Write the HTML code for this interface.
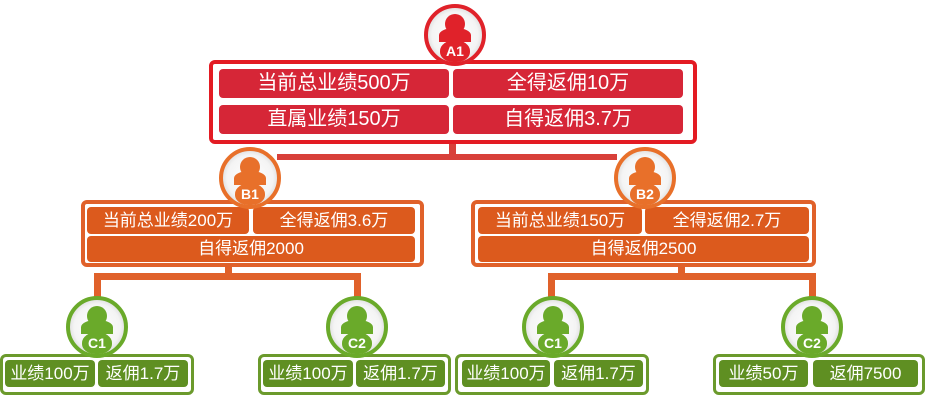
<!DOCTYPE html>
<html><head><meta charset="utf-8"><style>
*{margin:0;padding:0;box-sizing:border-box}
body{width:927px;height:401px;background:#fff;position:relative;overflow:hidden;font-family:"Liberation Sans","Noto Sans CJK SC",sans-serif}
.a{position:absolute}
.box{position:absolute;border-radius:6px;background:#fff}
.c{position:absolute;border-radius:4px;color:#fff;text-align:center;white-space:nowrap}
.r .c{background:#d62637;font-size:20px;line-height:29px}
.o .c{background:#dc5a1d;font-size:17px;line-height:27px}
.g .c{background:#5f8f22;font-size:17px;line-height:27px}
.av{position:absolute;width:62px;height:62px;border-radius:50%;border:4px solid var(--k);background:radial-gradient(circle,#fff 0,#f4f4f4 60%,#c8c8c8 90%,#aaa 100%)}
.av .h{position:absolute;left:17px;top:6px;width:20px;height:20px;border-radius:50%;background:var(--k)}
.av .b{position:absolute;left:11px;top:20px;width:32px;height:14px;border-radius:50% 50% 0 0;background:var(--k)}
.av .l{position:absolute;left:12px;top:32px;width:30px;height:22px;border-radius:50% 50% 45% 45%;background:var(--k);color:#fff;font-size:14px;font-weight:bold;text-align:center;line-height:22px}
</style></head><body>
<div class="a" style="left:449px;top:140px;width:7px;height:18px;background:#d8403a"></div>
<div class="a" style="left:277px;top:154px;width:340px;height:6px;background:#d8403a"></div>
<div class="a" style="left:225px;top:264px;width:7px;height:14px;background:#e0612a"></div>
<div class="a" style="left:94px;top:273px;width:267px;height:7px;background:#e0612a"></div>
<div class="a" style="left:94px;top:273px;width:7px;height:30px;background:#e0612a"></div>
<div class="a" style="left:354px;top:273px;width:7px;height:30px;background:#e0612a"></div>
<div class="a" style="left:678px;top:264px;width:7px;height:14px;background:#e0612a"></div>
<div class="a" style="left:548px;top:273px;width:268px;height:7px;background:#e0612a"></div>
<div class="a" style="left:548px;top:273px;width:7px;height:30px;background:#e0612a"></div>
<div class="a" style="left:809px;top:273px;width:7px;height:30px;background:#e0612a"></div>

<div class="box r" style="left:209px;top:60px;width:488px;height:84px;border:4px solid #e31b23">
<div class="c" style="left:6px;top:5px;width:230px">当前总业绩500万</div>
<div class="c" style="left:240px;top:5px;width:230px">全得返佣10万</div>
<div class="c" style="left:6px;top:41px;width:230px">直属业绩150万</div>
<div class="c" style="left:240px;top:41px;width:230px">自得返佣3.7万</div>
</div>

<div class="box o" style="left:81px;top:200px;width:343px;height:67px;border:4px solid #e0612a">
<div class="c" style="left:2px;top:3px;width:162px">当前总业绩200万</div>
<div class="c" style="left:168px;top:3px;width:162px">全得返佣3.6万</div>
<div class="c" style="left:2px;top:32px;width:328px;height:26px;line-height:26px">自得返佣2000</div>
</div>
<div class="box o" style="left:471px;top:200px;width:345px;height:67px;border:4px solid #e0612a">
<div class="c" style="left:3px;top:3px;width:164px">当前总业绩150万</div>
<div class="c" style="left:170px;top:3px;width:164px">全得返佣2.7万</div>
<div class="c" style="left:3px;top:32px;width:331px;height:26px;line-height:26px">自得返佣2500</div>
</div>

<div class="box g" style="left:0;top:354px;width:194px;height:41px;border:3px solid #6b9a2c">
<div class="c" style="left:2px;top:3px;width:90px">业绩100万</div>
<div class="c" style="left:95px;top:3px;width:90px">返佣1.7万</div>
</div>
<div class="box g" style="left:258px;top:354px;width:193px;height:41px;border:3px solid #6b9a2c">
<div class="c" style="left:2px;top:3px;width:90px">业绩100万</div>
<div class="c" style="left:95px;top:3px;width:89px">返佣1.7万</div>
</div>
<div class="box g" style="left:455px;top:354px;width:194px;height:41px;border:3px solid #6b9a2c">
<div class="c" style="left:4px;top:3px;width:88px">业绩100万</div>
<div class="c" style="left:96px;top:3px;width:89px">返佣1.7万</div>
</div>
<div class="box g" style="left:713px;top:354px;width:212px;height:41px;border:3px solid #6b9a2c">
<div class="c" style="left:3px;top:3px;width:89px">业绩50万</div>
<div class="c" style="left:97px;top:3px;width:105px">返佣7500</div>
</div>

<div class="av" style="left:424px;top:4px;--k:#e0222a"><div class="h"></div><div class="b"></div><div class="l">A1</div></div>
<div class="av" style="left:219px;top:147px;--k:#e8702a"><div class="h"></div><div class="b"></div><div class="l">B1</div></div>
<div class="av" style="left:614px;top:147px;--k:#e8702a"><div class="h"></div><div class="b"></div><div class="l">B2</div></div>
<div class="av" style="left:66px;top:296px;--k:#6aaa2a"><div class="h"></div><div class="b"></div><div class="l">C1</div></div>
<div class="av" style="left:326px;top:296px;--k:#6aaa2a"><div class="h"></div><div class="b"></div><div class="l">C2</div></div>
<div class="av" style="left:522px;top:296px;--k:#6aaa2a"><div class="h"></div><div class="b"></div><div class="l">C1</div></div>
<div class="av" style="left:781px;top:296px;--k:#6aaa2a"><div class="h"></div><div class="b"></div><div class="l">C2</div></div>
</body></html>
